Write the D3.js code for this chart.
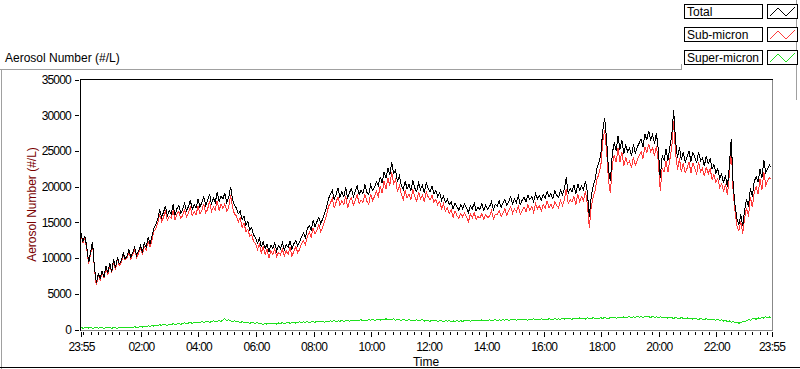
<!DOCTYPE html>
<html><head><meta charset="utf-8">
<script src="https://cdn.jsdelivr.net/npm/d3@7"></script>
<style>
body{margin:0;background:#fff;}
svg{display:block;font-family:"Liberation Sans",Arial,sans-serif;}
</style>
</head><body>
<svg id="chart" width="800" height="369"></svg>
<script>
// ---- data (4-minute samples starting 23:55) ----
const startTime = new Date(2000, 0, 1, 23, 55);
const endTime = new Date(2000, 0, 2, 23, 55);
const stepMinutes = 4;

const total = [
13500,12300,13100,11600,9400,10800,12300,8700,6500,7800,7200,
8200,7400,8900,7900,9300,8100,9800,8600,10100,9200,
9600,10700,9900,10300,11200,10100,10800,11500,10400,11000,
11700,10900,12100,11500,12900,12000,13100,14200,14700,15400,
16800,15700,16400,17300,15900,16600,16200,17500,16000,16900,
17400,16300,16800,17700,16600,17200,18100,16800,17500,17000,
18300,17100,17800,18600,17400,18000,19000,17600,18400,17800,
19200,17900,18700,18300,19100,17800,18500,20000,18200,17400,
17000,16200,16600,15400,15900,14600,15100,13900,14300,13200,
12900,12100,12700,11600,12300,11300,12000,10900,11800,11400,
12100,11000,11700,11300,12200,11100,11900,11500,12400,11200,
12000,12500,11700,12300,13000,13500,12900,14100,14600,13900,
15300,14400,15100,15700,14800,15500,16200,17100,18300,18900,
19500,18200,18900,19800,18500,19300,18600,19900,18300,19200,
19700,18600,19400,20100,18900,19500,19000,20300,19200,18900,
20300,19500,19900,20700,20100,21400,20500,22100,21200,22600,
21600,23400,21900,22300,20700,21500,20200,19600,20800,19700,
20300,19400,20900,19800,19300,20500,19600,20200,19100,20600,
19800,19300,20100,19000,19500,18600,19200,18100,18700,17800,
18200,17500,17900,16900,17700,17200,16700,17500,16900,17600,
17000,16400,17300,16900,17700,16600,17100,16800,17600,16700,
17400,16900,17200,17900,16800,17500,17300,18000,17100,17700,
18200,17400,17900,18600,17600,18300,17800,18700,17500,18100,
18500,17900,18800,18200,18600,17900,19000,18300,18700,18100,
18900,18400,19300,18600,19000,18300,19400,18800,18500,19500,
18900,19600,21300,19100,19700,19300,20200,19000,20400,19500,
20100,19600,20800,19200,15800,18600,20100,21000,22600,23300,
24500,27800,29600,26700,22400,20800,24600,26200,25000,27100,
25200,26500,24600,25800,24900,25400,24300,25900,24700,25500,
26100,26700,25600,27400,26500,27800,26600,27300,26000,27500,
25100,21200,24300,23700,25300,23600,25500,27100,30700,26300,
24000,25500,23700,24900,23400,24200,25000,23500,24800,24100,
23300,24900,23600,24000,22900,24300,23200,23900,22500,23100,
21900,22500,21100,21800,20500,21600,19900,22800,26700,20400,
17400,15500,14700,16100,14500,16700,18300,17200,19800,18600,
20700,21400,20600,22500,21200,23700,22000,22500,23000,22700
];

const subMicron = [
13200,12120,12840,11270,9200,10520,12150,8460,6190,7610,6940,
7970,7230,8610,7690,9040,7950,9500,8380,9920,8930,
9360,10390,9700,10030,10850,9840,10580,11120,10100,10660,
11280,10570,11630,11110,12380,11560,12520,13730,14080,14860,
16120,15130,15680,16660,15310,15820,15550,16670,15280,16140,
16520,15560,15980,16750,15800,16300,17090,15960,16540,16100,
17250,16180,16680,17620,16340,16820,18010,16500,17170,16740,
18040,16620,17590,16950,17580,16560,17120,18800,17080,16170,
15950,15060,15640,14320,14890,13700,14060,13030,13310,12270,
12020,11140,11900,10740,11610,10480,11250,10020,11010,10500,
11260,10240,10780,10450,11230,10280,11000,10500,11540,10250,
10990,11610,10720,11240,12070,12420,11910,12980,13640,12850,
14190,13400,13940,14660,13710,14320,15180,15950,17210,17700,
18370,16960,17820,18590,17350,18030,17480,18670,16990,18030,
18440,17410,18070,18880,17610,18120,17790,18960,17950,17500,
19000,18080,18620,19340,18630,20090,19060,20750,19700,21220,
20140,22050,20410,21000,19280,20140,18930,18190,19480,18450,
18920,18140,19590,18600,17950,19260,18310,18830,17920,19300,
18550,18150,18780,17800,18230,17470,17940,16910,17600,16560,
17030,16220,16780,15690,16610,15950,15540,16270,15770,16310,
15800,15090,16150,15640,16360,15420,15810,15580,16250,15460,
16100,15690,15830,16640,15480,16100,16060,16650,15810,16320,
16890,15980,16640,17210,16270,16850,16500,17290,16140,16630,
17150,16470,17510,16740,17220,16400,17660,16880,17310,16590,
17500,16920,17950,17070,17570,16910,17840,17360,17000,18080,
17360,18150,19700,17620,18180,17870,18610,17500,18930,17880,
18590,18020,19350,17570,14260,17110,18440,19450,21000,21780,
22860,26240,27900,25110,20870,19120,22990,24460,23420,25450,
23480,24900,22830,24140,23190,23580,22660,24140,23010,23650,
24390,24900,23930,25520,24760,26010,24920,25470,24280,25730,
23450,19410,22600,22080,23540,22020,23790,25460,29140,24610,
22400,23980,22020,23350,21930,22570,23500,21920,23360,22540,
21820,23500,22030,22550,21510,22780,21780,22550,21020,21720,
20600,21080,19870,20440,19320,20310,18820,21590,25700,19270,
16480,14460,13840,15110,13380,15640,17060,15810,18500,17120,
19140,19980,18950,21000,19480,22110,20200,20860,21240,21020
];

const superMicron = [
300,180,260,330,200,280,150,240,310,190,260,
230,170,290,210,260,150,300,220,180,270,
240,310,200,270,350,260,220,380,300,340,
420,330,470,390,520,440,580,470,620,540,
680,570,720,640,590,780,650,830,720,760,
880,740,820,950,800,900,1010,840,960,900,
1050,920,1120,980,1060,1180,990,1100,1230,1060,
1160,1280,1110,1350,1520,1240,1380,1200,1120,1230,
1050,1140,960,1080,1010,900,1040,870,990,930,
880,960,800,860,690,820,750,880,790,900,
840,760,920,850,970,820,900,1000,860,950,
1010,890,980,1060,930,1080,990,1120,960,1050,
1110,1000,1160,1040,1090,1180,1020,1150,1090,1200,
1130,1240,1080,1210,1150,1270,1120,1230,1310,1170,
1260,1190,1330,1220,1290,1380,1210,1340,1250,1400,
1300,1420,1280,1360,1470,1310,1440,1350,1500,1380,
1460,1350,1490,1300,1420,1360,1270,1410,1320,1250,
1380,1260,1310,1200,1350,1240,1290,1370,1180,1300,
1250,1150,1320,1200,1270,1130,1260,1190,1100,1240,
1170,1280,1120,1210,1090,1250,1160,1230,1130,1290,
1200,1310,1150,1260,1340,1180,1290,1220,1350,1240,
1300,1210,1370,1260,1320,1400,1240,1350,1290,1380,
1310,1420,1260,1390,1330,1450,1300,1410,1360,1470,
1350,1430,1290,1460,1380,1500,1340,1420,1390,1510,
1400,1480,1350,1530,1430,1390,1560,1440,1500,1420,
1540,1450,1600,1480,1520,1430,1590,1500,1470,1620,
1510,1580,1450,1630,1540,1490,1660,1550,1600,1520,
1640,1560,1700,1590,1530,1680,1610,1740,1580,1650,
1720,1600,1770,1660,1710,1820,1640,1760,1690,1850,
1710,1800,1670,1880,1740,1790,1680,1830,1720,1770,
1650,1790,1700,1620,1760,1580,1710,1640,1560,1690,
1600,1520,1680,1550,1470,1630,1500,1580,1440,1560,
1480,1400,1570,1450,1390,1520,1420,1350,1480,1380,
1300,1420,1230,1360,1180,1290,1080,1210,1000,1130,
920,1040,860,990,1120,1060,1240,1390,1300,1480,
1560,1420,1650,1500,1720,1590,1800,1640,1760,1680
];

const seriesNames = ["Total", "Sub-micron", "Super-micron"];
const seriesColors = ["#000000", "#ff3a3a", "#1ee01e"];
const yTicks = [0, 5000, 10000, 15000, 20000, 25000, 30000, 35000];
const xMajorHours = ["02:00","04:00","06:00","08:00","10:00","12:00","14:00","16:00","18:00","20:00","22:00"];
const chartTitle = "Aerosol Number (#/L)";
const yAxisTitle = "Aerosol Number (#/L)";
const xAxisTitle = "Time";

// ---- drawing ----
const svg = d3.select("#chart");
const times = total.map((_, i) => new Date(startTime.getTime() + i * stepMinutes * 60000));

const x = d3.scaleTime().domain([startTime, endTime]).range([81, 771.5]);
const y = d3.scaleLinear().domain([0, 35000]).range([329.5, 79.5]);

// outer frame
const frame = svg.append("g").attr("fill", "none").attr("shape-rendering", "crispEdges");
frame.append("line").attr("x1", 0).attr("x2", 681).attr("y1", 69.5).attr("y2", 69.5).attr("stroke", "#a0a0a0");
frame.append("line").attr("x1", 681.5).attr("x2", 681.5).attr("y1", 64).attr("y2", 70).attr("stroke", "#a0a0a0");
frame.append("line").attr("x1", 796.5).attr("x2", 796.5).attr("y1", 0).attr("y2", 100).attr("stroke", "#a0a0a0");
frame.append("line").attr("x1", 1.5).attr("x2", 1.5).attr("y1", 69).attr("y2", 369).attr("stroke", "#a0a0a0");
frame.append("line").attr("x1", 0).attr("x2", 800).attr("y1", 367.5).attr("y2", 367.5).attr("stroke", "#000");

// title
svg.append("text").attr("x", 5).attr("y", 62).attr("font-size", 12).attr("fill", "#000").text(chartTitle);

// plot area frame
const pf = svg.append("g").attr("shape-rendering", "crispEdges");
pf.append("line").attr("x1", 80).attr("x2", 773).attr("y1", 79.5).attr("y2", 79.5).attr("stroke", "#000");
pf.append("line").attr("x1", 80.5).attr("x2", 80.5).attr("y1", 79).attr("y2", 331).attr("stroke", "#000");
pf.append("line").attr("x1", 772.5).attr("x2", 772.5).attr("y1", 80).attr("y2", 331).attr("stroke", "#888");
pf.append("line").attr("x1", 81).attr("x2", 773).attr("y1", 330.5).attr("y2", 330.5).attr("stroke", "#888");

// y axis
const yAxis = svg.append("g").attr("transform", "translate(79,0)")
  .call(d3.axisLeft(y).tickValues(yTicks).tickSize(4).tickPadding(4).tickFormat(d3.format("d")));
yAxis.select(".domain").remove();
yAxis.selectAll("line").attr("stroke", "#000").attr("shape-rendering", "crispEdges");
yAxis.selectAll("text").attr("font-size", 12).attr("font-family", "Liberation Sans, Arial, sans-serif")
  .attr("letter-spacing", "-0.8px").attr("fill", "#000");

// x axis ticks
const minorTicks = [];
for (let m = 5; m < 1440; m += 15) minorTicks.push(new Date(startTime.getTime() + m * 60000));
const fmt = d3.timeFormat("%H:%M");
const parseHM = s => { const [h, mm] = s.split(":").map(Number); return new Date(2000, 0, 2, h, mm); };
const majorTicks = [startTime].concat(xMajorHours.map(parseHM)).concat([endTime]);

const xMinor = svg.append("g").attr("transform", "translate(0,332)")
  .call(d3.axisBottom(x).tickValues(minorTicks).tickSize(3).tickFormat(""));
xMinor.select(".domain").remove();
xMinor.selectAll("line").attr("stroke", "#000").attr("shape-rendering", "crispEdges");

const xMajor = svg.append("g").attr("transform", "translate(0,332)")
  .call(d3.axisBottom(x).tickValues(majorTicks).tickSize(5).tickPadding(4).tickFormat(fmt));
xMajor.select(".domain").remove();
xMajor.selectAll("line").attr("stroke", "#000").attr("shape-rendering", "crispEdges");
xMajor.selectAll("text").attr("font-size", 12).attr("font-family", "Liberation Sans, Arial, sans-serif")
  .attr("letter-spacing", "-0.8px").attr("fill", "#000").attr("dy", "0.85em");

// axis titles
svg.append("text").attr("x", (80 + 772) / 2).attr("y", 365.5).attr("text-anchor", "middle")
  .attr("font-size", 12).attr("fill", "#000").text(xAxisTitle);
svg.append("text").attr("transform", "translate(35.5,204.5) rotate(-90)").attr("text-anchor", "middle")
  .attr("font-size", 12).attr("fill", "#7a0000").text(yAxisTitle);

// series
const seriesData = [total, subMicron, superMicron];
const line = d3.line().x((d, i) => x(times[i])).y(d => y(d));
const plot = svg.append("g");
[1, 0, 2].forEach(k => {
  plot.append("path").datum(seriesData[k]).attr("d", line)
    .attr("fill", "none").attr("stroke", seriesColors[k]).attr("stroke-width", 1)
    .attr("shape-rendering", "crispEdges");
});

// legend
const lg = svg.append("g");
seriesNames.forEach((name, i) => {
  const top = 4 + i * 23;
  lg.append("rect").attr("x", 684.5).attr("y", top + 0.5).attr("width", 78).attr("height", 14)
    .attr("fill", "#fff").attr("stroke", "#000").attr("shape-rendering", "crispEdges");
  lg.append("text").attr("x", 687).attr("y", top + 12).attr("font-size", 12).attr("fill", "#000").text(name);
  lg.append("rect").attr("x", 767.5).attr("y", top + 0.5).attr("width", 30).attr("height", 14)
    .attr("fill", "#fff").attr("stroke", "#000").attr("shape-rendering", "crispEdges");
  const pts = [[770, top + 12], [778, top + 4], [786, top + 12], [795, top + 3]];
  lg.append("path").attr("d", d3.line()(pts)).attr("fill", "none")
    .attr("stroke", seriesColors[i]).attr("stroke-width", 1);
});
</script>
</body></html>
